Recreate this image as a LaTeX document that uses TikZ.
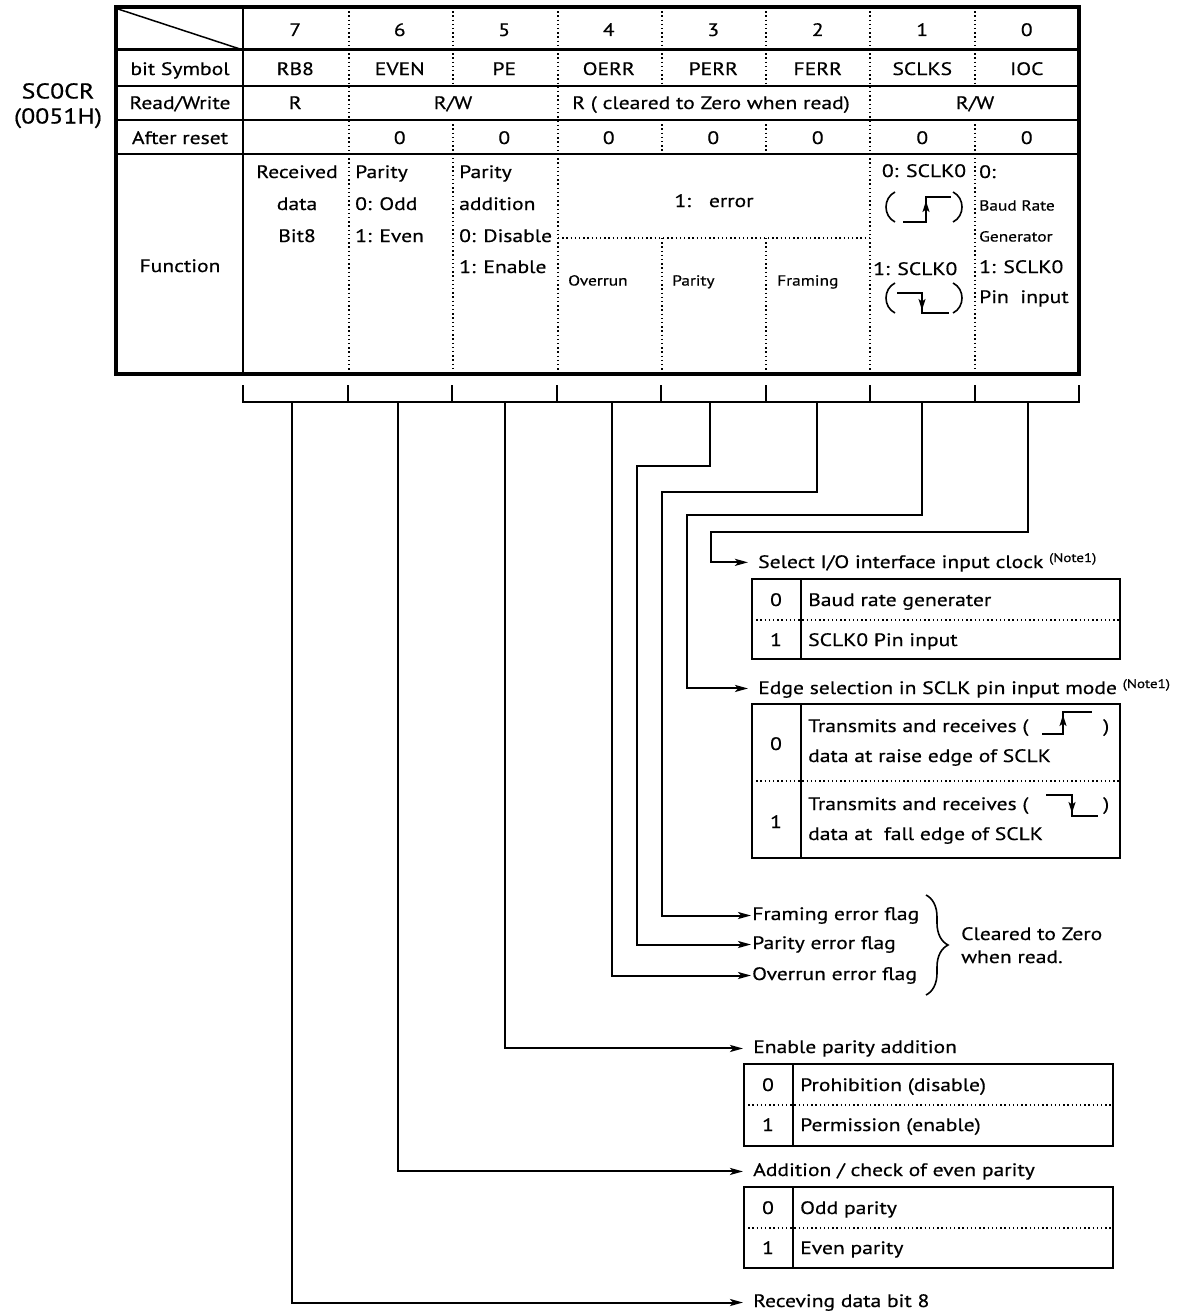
\documentclass[tikz,border=0pt]{standalone}
\usepackage{fontspec}
\setmainfont{PT Sans}[FakeStretch=1.2, FakeBold=0.5]
\usetikzlibrary{arrows.meta,decorations.pathreplacing}
\begin{document}
\begin{tikzpicture}[x=1pt,y=-1pt,
  tb/.style={font=\fontsize{18}{20}\selectfont, inner sep=0pt, anchor=mid, yshift=-2.5pt},
  tbl/.style={tb, anchor=mid west},
  sm/.style={font=\fontsize{14.5}{16}\selectfont, inner sep=0pt, anchor=mid west, yshift=-2pt},
  lb/.style={font=\fontsize{18}{20}\selectfont, inner sep=0pt, anchor=mid west, yshift=-2.5pt},
  lbc/.style={lb, anchor=mid},
  dotl/.style={line width=1.4pt, dash pattern=on 1.4pt off 2.8pt},
  sol/.style={line width=2pt},
  conn/.style={line width=2pt, -{Stealth[length=13pt,width=7pt,inset=3pt]}},
  wave/.style={line width=1.6pt},
  wavearr/.style={line width=1.6pt, -{Stealth[length=11pt,width=7pt,inset=2.5pt]}},
  ]
\useasboundingbox (0,0) rectangle (1189,1314);
\fill[white] (0,0) rectangle (1189,1314);
\newcommand\noteone{{\fontsize{12.5}{13}\selectfont\raisebox{6pt}{(Note1)}}}

% ---------------- register table ----------------
\node[font=\fontsize{21.5}{23}\selectfont, inner sep=0pt, anchor=mid, yshift=-3pt] (reg) at (58,93) {SC0CR};
\node[font=\fontsize{21.5}{23}\selectfont, inner sep=0pt, anchor=mid, yshift=-3pt] (addr) at (58,118) {(0051H)};

\draw[line width=1.5pt] (118,9) -- (243,50);
\draw[line width=3pt] (116,50) -- (1079,50);
\foreach \yy in {86,120,154} \draw[sol] (116,\yy) -- (1079,\yy);
\draw[sol] (243,7) -- (243,374);
% dotted column dividers
\draw[dotl] (349,7) -- (349,374);
\draw[dotl] (453,7) -- (453,86) (453,120) -- (453,374);
\draw[dotl] (558,7) -- (558,374);
\foreach \xx in {662,766} \draw[dotl] (\xx,7) -- (\xx,86) (\xx,120) -- (\xx,154) (\xx,238) -- (\xx,374);
\draw[dotl] (870,7) -- (870,374);
\draw[dotl] (975,7) -- (975,86) (975,120) -- (975,374);
\draw[dotl] (558,238) -- (870,238);
\draw[line width=3.5pt] (116,7) rectangle (1079,374);

% header row
\foreach \b/\xx in {7/295.25,6/399.75,5/504.25,4/608.75,3/713.25,2/817.75,1/922.25,0/1026.75}
  \node[tb] (h\b) at (\xx,31) {\b};
% bit symbols
\foreach \b/\xx/\s in {7/295.25/RB8,6/399.75/EVEN,5/504.25/PE,4/608.75/OERR,3/713.25/PERR,2/817.75/FERR,1/922.25/SCLKS,0/1026.75/IOC}
  \node[tb] (s\b) at (\xx,70) {\s};
% reset values
\foreach \b/\xx in {6/399.75,5/504.25,4/608.75,3/713.25,2/817.75,1/922.25,0/1026.75}
  \node[tb] (r\b) at (\xx,139) {0};

\node[tb] (rowsym) at (180,70) {bit Symbol};
\node[tb] (rowrw) at (180,104) {Read/Write};
\node[tb] (rowrst) at (180,139) {After reset};
\node[tb] (rowfn) at (180,267) {Function};

\node[tb] (rw7) at (295.25,104) {R};
\node[tb] (rw65) at (453,104) {R/W};
\node[tb] (rw42) at (711,104) {R ( cleared to Zero when read)};
\node[tb] (rw10) at (975,104) {R/W};

% function row
\node[tb] (f7a) at (297,173) {Received};
\node[tb] (f7b) at (297,205) {data};
\node[tb] (f7c) at (297,237) {Bit8};
\node[tbl] (f6a) at (355,173) {Parity};
\node[tbl] (f6b) at (355,205) {0: Odd};
\node[tbl] (f6c) at (355,237) {1: Even};
\node[tbl] (f5a) at (459,173) {Parity};
\node[tbl] (f5b) at (459,205) {addition};
\node[tbl] (f5c) at (459,237) {0: Disable};
\node[tbl] (f5d) at (459,268) {1: Enable};
\node[tb] (ferr) at (714,202) {1:\hspace{1em}error};
\node[sm] (fov) at (568,281) {Overrun};
\node[sm] (fpa) at (672,281) {Parity};
\node[sm] (ffr) at (777,281) {Framing};
\node[tb] (f1a) at (924,172) {0: SCLK0};
\node[tbl] (f1b) at (873,270) {1: SCLK0};
\node[tbl] (f0a) at (979,173) {0:};
\node[sm] (f0b) at (979,206) {Baud Rate};
\node[sm] (f0c) at (979,237) {Generator};
\node[tbl] (f0d) at (979,268) {1: SCLK0};
\node[tbl] (f0e) at (979,298) {Pin\ \ input};

% rising-edge symbol
\draw[wave] (895,192) .. controls (883,198) and (883,216) .. (895,222);
\draw[wave] (953,192) .. controls (965,198) and (965,216) .. (953,222);
\draw[wave] (903,222) -- (926,222) -- (926,197) -- (951,197);
\draw[wavearr] (926,222) -- (926,201);
% falling-edge symbol
\draw[wave] (895,283) .. controls (883,289) and (883,307) .. (895,313);
\draw[wave] (953,283) .. controls (965,289) and (965,307) .. (953,313);
\draw[wave] (897,293) -- (922,293) -- (922,313) -- (949,313);
\draw[wavearr] (922,293) -- (922,310);

% ---------------- bracket under the table ----------------
\draw[sol] (243,385) -- (243,402) -- (1079,402) -- (1079,385);
\foreach \xx in {347.5,452,556.5,661,765.5,870,974.5} \draw[sol] (\xx,385) -- (\xx,402);
\foreach \b/\xx in {7/292,6/398,5/505,4/612,3/710,2/817,1/922,0/1028}
  \coordinate (b\b) at (\xx,402);

% ---------------- descriptions ----------------
\node[lb] (lsel) at (758,563) {Select I/O interface input clock \noteone};
\draw[sol] (752,579) rectangle (1120,659);
\draw[sol] (801,579) -- (801,659);
\draw[dotl] (752,620) -- (1120,620);
\node[lbc] (sel0) at (776,601) {0};
\node[lb] (sel0t) at (808,601) {Baud rate generater};
\node[lbc] (sel1) at (776,641) {1};
\node[lb] (sel1t) at (808,641) {SCLK0 Pin input};

\node[lb] (ledge) at (758,689) {Edge selection in SCLK pin input mode \noteone};
\draw[sol] (752,704) rectangle (1120,858);
\draw[sol] (801,704) -- (801,858);
\draw[dotl] (752,781) -- (1120,781);
\node[lbc] (edg0) at (776,745) {0};
\node[lb] (edg0a) at (808,727) {Transmits and receives (};
\node[lb] (edg0p) at (1103,727) {)};
\node[lb] (edg0b) at (808,757) {data at raise edge of SCLK};
\draw[wave] (1042,734) -- (1063,734) -- (1063,712) -- (1092,712);
\draw[wavearr] (1063,734) -- (1063,715);
\node[lbc] (edg1) at (776,823) {1};
\node[lb] (edg1a) at (808,805) {Transmits and receives (};
\node[lb] (edg1p) at (1103,805) {)};
\node[lb] (edg1b) at (808,835) {data at\ \ fall edge of SCLK};
\draw[wave] (1046,795) -- (1072,795) -- (1072,816) -- (1098,816);
\draw[wavearr] (1072,795) -- (1072,813);

\node[lb] (lfr) at (752,915) {Framing error flag};
\node[lb] (lpa) at (752,944) {Parity error flag};
\node[lb] (lov) at (752,975) {Overrun error flag};
\draw[line width=1.6pt, decorate, decoration={brace, amplitude=22pt}] (926,895) -- (926,995);
\node[lb] (clr1) at (961,935) {Cleared to Zero};
\node[lb] (clr2) at (961,958) {when read.};

\node[lb] (lpe) at (753,1048) {Enable parity addition};
\draw[sol] (744,1064) rectangle (1113,1146);
\draw[sol] (793,1064) -- (793,1146);
\draw[dotl] (744,1105) -- (1113,1105);
\node[lbc] (pe0) at (768,1086) {0};
\node[lb] (pe0t) at (800,1086) {Prohibition (disable)};
\node[lbc] (pe1) at (768,1126) {1};
\node[lb] (pe1t) at (800,1126) {Permission (enable)};

\node[lb] (lev) at (753,1171) {Addition / check of even parity};
\draw[sol] (744,1187) rectangle (1113,1268);
\draw[sol] (793,1187) -- (793,1268);
\draw[dotl] (744,1228) -- (1113,1228);
\node[lbc] (ev0) at (768,1209) {0};
\node[lb] (ev0t) at (800,1209) {Odd parity};
\node[lbc] (ev1) at (768,1249) {1};
\node[lb] (ev1t) at (800,1249) {Even parity};

\node[lb] (lrb) at (753,1302) {Receving data bit 8};

% ---------------- connectors ----------------
\draw[conn] (b7) |- ([xshift=-10pt]lrb.west);
\draw[conn] (b6) |- ([xshift=-10pt]lev.west);
\draw[conn] (b5) |- ([xshift=-10pt]lpe.west);
\draw[conn] (b4) |- ([xshift=-1pt]lov.west);
\draw[conn] (b3) -- (710,466) -- (637,466) |- ([xshift=-1pt]lpa.west);
\draw[conn] (b2) -- (817,492) -- (662,492) |- ([xshift=-1pt]lfr.west);
\draw[conn] (b1) -- (922,515) -- (687,515) |- ([xshift=-10pt]ledge.west);
\draw[conn] (b0) -- (1028,532) -- (711,532) |- ([xshift=-10pt]lsel.west);
\end{tikzpicture}
\end{document}
